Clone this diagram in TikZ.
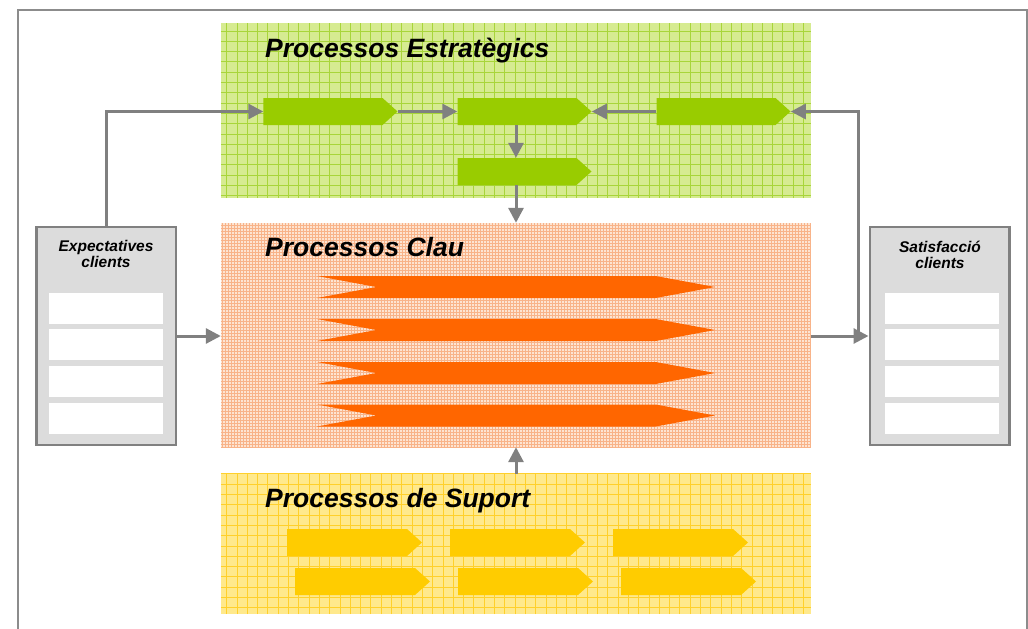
\documentclass[tikz,border=0pt]{standalone}
\usepackage{fontspec}
\setmainfont{Liberation Sans}
\usetikzlibrary{shapes.symbols}
\usetikzlibrary{arrows.meta}

\begin{document}
\begin{tikzpicture}[x=1pt,y=-1pt]
\definecolor{framegray}{HTML}{8C8C8C}
\definecolor{linegray}{HTML}{808080}
\definecolor{boxgray}{HTML}{DCDCDC}
\definecolor{estrfill}{HTML}{D6EB91}
\definecolor{estrgrid}{HTML}{A8D53A}
\definecolor{estrstep}{HTML}{99CC00}
\definecolor{claufill}{HTML}{FDE4D2}
\definecolor{claugrid}{HTML}{F8B389}
\definecolor{claustep}{HTML}{FF6600}
\definecolor{supfill}{HTML}{FFE98C}
\definecolor{supgrid}{HTML}{FFD02B}
\definecolor{supstep}{HTML}{FFCC00}
\tikzstyle{panel}=[rectangle, draw=none, inner sep=0pt, minimum width=590]
\tikzstyle{paneltitle}=[inner sep=0pt, font=\fontsize{26.5}{30}\selectfont\bfseries\itshape]
\tikzstyle{boxtitle}=[inner sep=0pt, align=center, font=\fontsize{15.5}{16}\selectfont\bfseries\itshape]
\tikzstyle{client}=[rectangle, draw=linegray, line width=2.5pt, fill=boxgray, minimum width=139.5, minimum height=218, inner sep=0pt]
\tikzstyle{slot}=[rectangle, fill=white, minimum width=114, minimum height=31, inner sep=0pt]
\tikzstyle{conn}=[draw=linegray, line width=3pt, -{Triangle[length=15pt,width=15pt]}]
\tikzstyle{greenstep}=[signal, signal to=east, signal pointer angle=84, fill=estrstep, minimum width=134, minimum height=27, inner sep=0pt]
\tikzstyle{orangestep}=[signal, signal from=west, signal to=east, signal pointer angle=21, fill=claustep, minimum width=398, minimum height=22, inner sep=0pt]
\tikzstyle{yellowstep}=[signal, signal to=east, signal pointer angle=84, fill=supstep, minimum width=135, minimum height=27, inner sep=0pt]

\useasboundingbox (0,0) rectangle (1028,629);
\draw[framegray, line width=2pt] (17.5,9.5) rectangle (1026.5,640);

% panels
\node[panel, fill=estrfill, minimum height=175] (estr) at (516,110.5) {};
\draw[estrgrid, line width=0.8pt, step=10.3pt] (estr.south west) grid (estr.north east);
\node[panel, fill=claufill, minimum height=224] (clau) at (516,335) {};
\draw[claugrid, line width=0.6pt, step=3pt] (clau.south west) grid (clau.north east);
\node[panel, fill=supfill, minimum height=140] (sup) at (516,544) {};
\draw[supgrid, line width=0.8pt, step=10.3pt] (sup.south west) grid (sup.north east);

\node[paneltitle, anchor=base west] (estrt) at (265,57) {Processos Estratègics};
\node[paneltitle, anchor=base west] (claut) at (265,256) {Processos Clau};
\node[paneltitle, anchor=base west] (supt) at (265,507) {Processos de Suport};

% strategic steps
\node[greenstep] (E1) at (323,111.5) {};
\node[greenstep] (E2) at (517,111.5) {};
\node[greenstep] (E3) at (716,111.5) {};
\node[greenstep] (E4) at (517,171.5) {};

% key processes
\foreach \i/\y in {1/287,2/330,3/373,4/415.5}
  \node[orangestep] (K\i) at (516,\y) {};

% support steps
\node[yellowstep] (S1) at (347,542.5) {};
\node[yellowstep] (S2) at (510,542.5) {};
\node[yellowstep] (S3) at (673,542.5) {};
\node[yellowstep] (S4) at (355,581.5) {};
\node[yellowstep] (S5) at (518,581.5) {};
\node[yellowstep] (S6) at (681,581.5) {};

% client boxes
\node[client] (exp) at (106,336) {};
\node[boxtitle, anchor=base] (expt) at (106,267) {Expectatives\\clients};
\foreach \i/\y in {1/308.5,2/344.5,3/381.5,4/418.5}
  \node[slot] (X\i) at (106,\y) {};
\node[client] (sat) at (939.5,336) {};
\node[boxtitle, anchor=base] (satt) at (940,268) {Satisfacció\\clients};
\foreach \i/\y in {1/308.5,2/344.5,3/381.5,4/418.5}
  \node[slot] (Y\i) at (942,\y) {};

% connectors
\coordinate (fb) at (858,336);
\draw[conn] (exp.north) |- (E1.west);
\draw[conn] (E1.east) -- (E2.west);
\draw[conn] (E3.west) -- (E2.east);
\draw[conn] (E2.south -| clau.north) -- (E4.north -| clau.north);
\draw[conn] (E4.south -| clau.north) -- (clau.north);
\draw[conn] (exp.east) -- (exp.east -| clau.west);
\draw[conn] (clau.east |- fb) -- (sat.west |- fb);
\draw[conn] (fb) |- (E3.east);
\draw[conn] (sup.north) -- (clau.south);

\end{tikzpicture}
\end{document}
